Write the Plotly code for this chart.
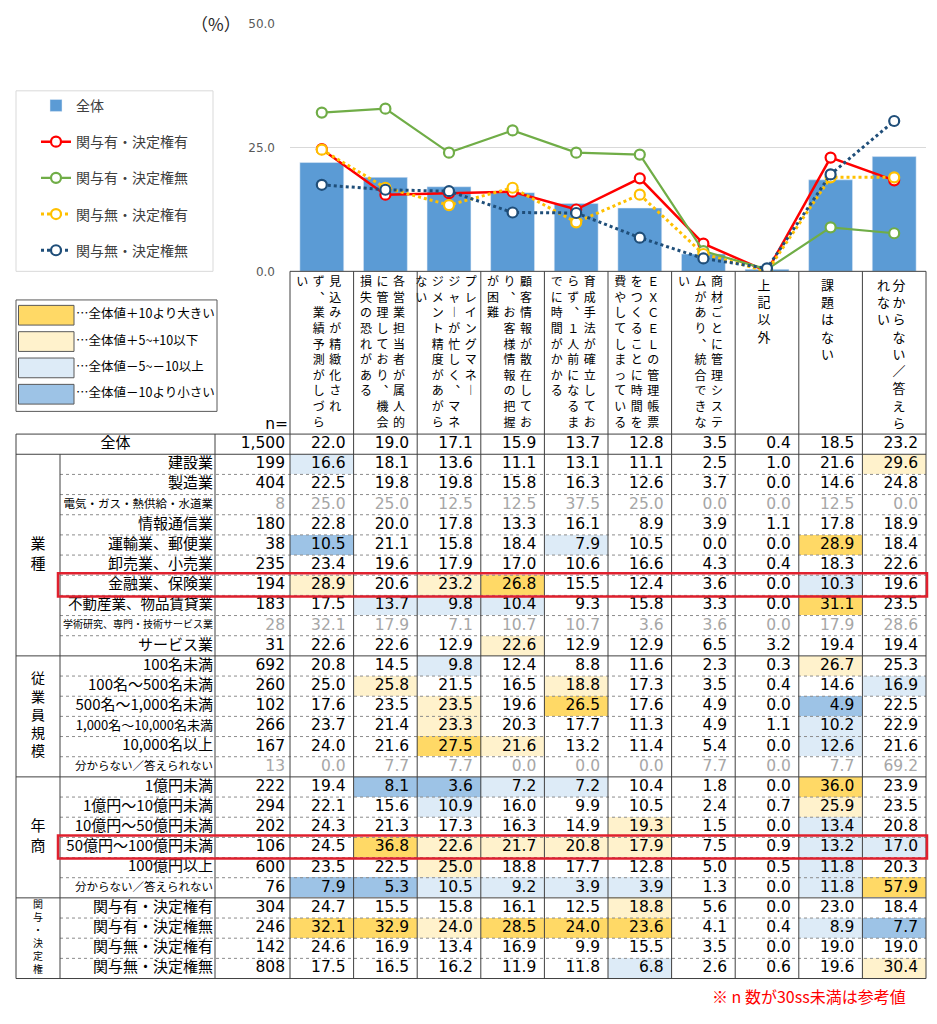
import plotly.graph_objects as go

# ---------------- data ----------------
CATEGORIES = [
    "見込みが精緻化されず、業績予測がしづらい",
    "各営業担当者が属人的に管理しており、機会損失の恐れがある",
    "プレイングマネージャーが忙しく、マネジメント精度があがらない",
    "顧客情報が散在しており、お客様情報の把握が困難",
    "育成手法が確立しておらず、1人前になるまでに時間がかかる",
    "EXCELの管理帳票をつくることに時間を費やしてしまっている",
    "商材ごとに管理システムがあり、統合できない",
    "上記以外",
    "課題はない",
    "分からない／答えられない",
]

# how each header wraps into vertical columns (right-most column first)
HEADER_COLUMNS = [
    ["見込みが精緻化され", "ず、業績予測がしづら", "い"],
    ["各営業担当者が属人的", "に管理しており、機会", "損失の恐れがある"],
    ["プレイングマネー", "ジャーが忙しく、マネ", "ジメント精度があがら", "ない"],
    ["顧客情報が散在してお", "り、お客様情報の把握", "が困難"],
    ["育成手法が確立してお", "らず、1人前になるま", "でに時間がかかる"],
    ["ＥＸＣＥＬの管理帳票", "をつくることに時間を", "費やしてしまっている"],
    ["商材ごとに管理システ", "ムがあり、統合できな", "い"],
    ["上記以外"],
    ["課題はない"],
    ["分からない／答えら", "れない"],
]

GROUP_NAMES = ["業種", "従業員規模", "年商", "関与・決定権"]
GROUP_SIZES = [10, 6, 6, 4]

ROW_LABELS = [
    "全体",
    "建設業", "製造業", "電気・ガス・熱供給・水道業", "情報通信業", "運輸業、郵便業",
    "卸売業、小売業", "金融業、保険業", "不動産業、物品賃貸業",
    "学術研究、専門・技術サービス業", "サービス業",
    "100名未満", "100名～500名未満", "500名～1,000名未満", "1,000名～10,000名未満",
    "10,000名以上", "分からない／答えられない",
    "1億円未満", "1億円～10億円未満", "10億円～50億円未満", "50億円～100億円未満",
    "100億円以上", "分からない／答えられない",
    "関与有・決定権有", "関与有・決定権無", "関与無・決定権有", "関与無・決定権無",
]

N_SIZES = [1500, 199, 404, 8, 180, 38, 235, 194, 183, 28, 31,
           692, 260, 102, 266, 167, 13,
           222, 294, 202, 106, 600, 76,
           304, 246, 142, 808]

TABLE_VALUES = [
    [22.0, 19.0, 17.1, 15.9, 13.7, 12.8, 3.5, 0.4, 18.5, 23.2],
    [16.6, 18.1, 13.6, 11.1, 13.1, 11.1, 2.5, 1.0, 21.6, 29.6],
    [22.5, 19.8, 19.8, 15.8, 16.3, 12.6, 3.7, 0.0, 14.6, 24.8],
    [25.0, 25.0, 12.5, 12.5, 37.5, 25.0, 0.0, 0.0, 12.5, 0.0],
    [22.8, 20.0, 17.8, 13.3, 16.1, 8.9, 3.9, 1.1, 17.8, 18.9],
    [10.5, 21.1, 15.8, 18.4, 7.9, 10.5, 0.0, 0.0, 28.9, 18.4],
    [23.4, 19.6, 17.9, 17.0, 10.6, 16.6, 4.3, 0.4, 18.3, 22.6],
    [28.9, 20.6, 23.2, 26.8, 15.5, 12.4, 3.6, 0.0, 10.3, 19.6],
    [17.5, 13.7, 9.8, 10.4, 9.3, 15.8, 3.3, 0.0, 31.1, 23.5],
    [32.1, 17.9, 7.1, 10.7, 10.7, 3.6, 3.6, 0.0, 17.9, 28.6],
    [22.6, 22.6, 12.9, 22.6, 12.9, 12.9, 6.5, 3.2, 19.4, 19.4],
    [20.8, 14.5, 9.8, 12.4, 8.8, 11.6, 2.3, 0.3, 26.7, 25.3],
    [25.0, 25.8, 21.5, 16.5, 18.8, 17.3, 3.5, 0.4, 14.6, 16.9],
    [17.6, 23.5, 23.5, 19.6, 26.5, 17.6, 4.9, 0.0, 4.9, 22.5],
    [23.7, 21.4, 23.3, 20.3, 17.7, 11.3, 4.9, 1.1, 10.2, 22.9],
    [24.0, 21.6, 27.5, 21.6, 13.2, 11.4, 5.4, 0.0, 12.6, 21.6],
    [0.0, 7.7, 7.7, 0.0, 0.0, 0.0, 7.7, 0.0, 7.7, 69.2],
    [19.4, 8.1, 3.6, 7.2, 7.2, 10.4, 1.8, 0.0, 36.0, 23.9],
    [22.1, 15.6, 10.9, 16.0, 9.9, 10.5, 2.4, 0.7, 25.9, 23.5],
    [24.3, 21.3, 17.3, 16.3, 14.9, 19.3, 1.5, 0.0, 13.4, 20.8],
    [24.5, 36.8, 22.6, 21.7, 20.8, 17.9, 7.5, 0.9, 13.2, 17.0],
    [23.5, 22.5, 25.0, 18.8, 17.7, 12.8, 5.0, 0.5, 11.8, 20.3],
    [7.9, 5.3, 10.5, 9.2, 3.9, 3.9, 1.3, 0.0, 11.8, 57.9],
    [24.7, 15.5, 15.8, 16.1, 12.5, 18.8, 5.6, 0.0, 23.0, 18.4],
    [32.1, 32.9, 24.0, 28.5, 24.0, 23.6, 4.1, 0.4, 8.9, 7.7],
    [24.6, 16.9, 13.4, 16.9, 9.9, 15.5, 3.5, 0.0, 19.0, 19.0],
    [17.5, 16.5, 16.2, 11.9, 11.8, 6.8, 2.6, 0.6, 19.6, 30.4],
]

LINE_SERIES = ["関与有・決定権有", "関与有・決定権無", "関与無・決定権有", "関与無・決定権無"]
HIGHLIGHT_LABELS = ["金融業、保険業", "50億円～100億円未満"]
KEY_LABELS = ["…全体値＋10より大きい", "…全体値＋5~+10以下",
              "…全体値－5~－10以上", "…全体値－10より小さい"]
SMALL_N = 30
FOOTNOTE = "※ n 数が30ss未満は参考値"

# ---------------- styles / layout ----------------
W, H = 937, 1024
FONT_JP = "Noto Sans CJK JP"
FONT_NUM = "DejaVu Sans"
BAR_COLOR = "#5B9BD5"
LINE_STYLES = {
    "関与有・決定権有": dict(color="#FF0000", width=2.5, dash="solid"),
    "関与有・決定権無": dict(color="#70AD47", width=2.2, dash="solid"),
    "関与無・決定権有": dict(color="#FFC000", width=3, dash="dot"),
    "関与無・決定権無": dict(color="#1F4E79", width=3, dash="dot"),
}
# level colours: none, +5..+10, >+10, -5..-10, <-10
LEVEL_COLORS = ["#FFFFFF", "#FFF2CC", "#FFD966", "#DDEBF7", "#9DC3E6"]
KEY_ORDER = [2, 1, 3, 4]
GRAY = "#A6A6A6"
BORDER = "#404040"

TABLE_LEFT, LABEL_LEFT, N_LEFT, DATA_LEFT, TABLE_RIGHT = 16, 60, 215, 290, 926
HEADER_TOP, BODY_TOP, TABLE_BOTTOM = 268, 433, 985
CHART_TOP = 17.3
COL_W = (TABLE_RIGHT - DATA_LEFT) / len(CATEGORIES)
ROW_H = (TABLE_BOTTOM - BODY_TOP) / len(ROW_LABELS)

LABEL_SIZES = {3: 11.5, 8: 14.5, 9: 10, 14: 13, 16: 11.5, 22: 11.5}
GROUP_LABEL_SIZES = [15, 14, 15, 10]
BIG_HEADER = {7, 8, 9}
VERTICAL_FORMS = {"、": "︑", "ー": "︱", "1": "１"}


def col_center(i):
    return DATA_LEFT + COL_W * (i + 0.5)


def row_top(r):
    return BODY_TOP + ROW_H * r


def row_center(r):
    return BODY_TOP + ROW_H * (r + 0.5)


def level(v, base, n):
    if n < SMALL_N:
        return 0
    d = round(v - base, 1)
    if d > 10:
        return 2
    if d >= 5:
        return 1
    if d < -10:
        return 4
    if d <= -5:
        return 3
    return 0


def text_trace(x, y, text, pos, family, size, color="#000000"):
    return go.Scatter(
        x=x, y=y, text=text, mode="text", textposition=pos,
        textfont=dict(family=family, size=size, color=color),
        hoverinfo="skip", showlegend=False, cliponaxis=False,
        xaxis="x2", yaxis="y2",
    )


fig = go.Figure()

# ---------------- chart ----------------
overall = TABLE_VALUES[0]
fig.add_trace(go.Bar(
    x=CATEGORIES, y=overall, name="全体", legendgroup="全体",
    marker=dict(color=BAR_COLOR), width=0.69, hoverinfo="skip",
))
for name in LINE_SERIES:
    st = LINE_STYLES[name]
    fig.add_trace(go.Scatter(
        x=CATEGORIES, y=TABLE_VALUES[ROW_LABELS.index(name)],
        mode="lines+markers", name=name, legendgroup=name,
        line=dict(color=st["color"], width=st["width"], dash=st["dash"]),
        marker=dict(symbol="circle", size=10, color="white",
                    line=dict(color=st["color"], width=2.2)),
        hoverinfo="skip",
    ))

# ---------------- table cells ----------------
z = [[level(v, b, n) for v, b in zip(row, overall)]
     for row, n in zip(TABLE_VALUES, N_SIZES)]
scale = []
for k, c in enumerate(LEVEL_COLORS):
    scale += [[k / 5, c], [(k + 1) / 5, c]]
fig.add_trace(go.Heatmap(
    x=[col_center(i) for i in range(len(CATEGORIES))],
    y=[row_center(r) for r in range(len(ROW_LABELS))],
    z=z, colorscale=scale, zmin=-0.5, zmax=4.5, showscale=False,
    hoverinfo="skip", xaxis="x2", yaxis="y2",
))

# numbers (n and percentages), gray when n is too small
for gray in (False, True):
    xs, ys, ts = [], [], []
    for r, (row, n) in enumerate(zip(TABLE_VALUES, N_SIZES)):
        if (n < SMALL_N) != gray:
            continue
        xs.append(DATA_LEFT - 5)
        ys.append(row_center(r))
        ts.append(f"{n:,}")
        for i, v in enumerate(row):
            xs.append(col_center(i) + COL_W / 2 - 8)
            ys.append(row_center(r))
            ts.append(f"{v:.1f}")
    fig.add_trace(text_trace(xs, ys, ts, "middle left", FONT_NUM, 15.5,
                             GRAY if gray else "#000000"))

# row labels
fig.add_trace(text_trace(
    [N_LEFT - 2] * (len(ROW_LABELS) - 1),
    [row_center(r) for r in range(1, len(ROW_LABELS))],
    ROW_LABELS[1:], "middle left", FONT_JP,
    [LABEL_SIZES.get(r, 15) for r in range(1, len(ROW_LABELS))],
))
fig.add_trace(text_trace([(TABLE_LEFT + N_LEFT) / 2], [row_center(0)], [ROW_LABELS[0]],
                         "middle center", FONT_JP, 15))
fig.add_trace(text_trace([DATA_LEFT - 2], [HEADER_TOP + 156], ["n="],
                         "middle left", FONT_NUM, 15.5))

# group labels (vertical)
gy, gt = [], []
start = 1
for name, size in zip(GROUP_NAMES, GROUP_SIZES):
    gy.append((row_center(start) + row_center(start + size - 1)) / 2)
    gt.append("<br>".join(name))
    start += size
fig.add_trace(text_trace([(TABLE_LEFT + LABEL_LEFT) / 2] * len(gy), gy, gt,
                         "middle center", FONT_JP, GROUP_LABEL_SIZES))

# column headers (vertical writing, columns read right to left)
hx, ht = [], []          # long headers: one multi-line text per column
bx, by, bt = [], [], []  # short headers: one point per character, wider spacing
for i, cols in enumerate(HEADER_COLUMNS):
    big = i in BIG_HEADER
    step_x = 15.5 if big else 16.5
    k = len(cols)
    for j, col in enumerate(cols):
        x = col_center(i) - 3 + ((k - 1) / 2 - j) * step_x
        chars = [VERTICAL_FORMS.get(ch, ch) for ch in col]
        if big:
            for m, ch in enumerate(chars):
                bx.append(x)
                by.append(HEADER_TOP + 15.5 + m * 17.5)
                bt.append(ch)
        else:
            hx.append(x)
            ht.append("<br>".join(chars))
fig.add_trace(text_trace(hx, [HEADER_TOP + 6] * len(hx), ht, "bottom center", FONT_JP, 12))
fig.add_trace(text_trace(bx, by, bt, "middle center", FONT_JP, 13))

# ---------------- table lines ----------------
shapes = []


def hline(y, x0, x1, dash="solid", color=BORDER):
    shapes.append(dict(type="line", xref="x2", yref="y2", x0=x0, x1=x1, y0=y, y1=y,
                       line=dict(color=color, width=1, dash=dash)))


def vline(x, y0, y1):
    shapes.append(dict(type="line", xref="x2", yref="y2", x0=x, x1=x, y0=y0, y1=y1,
                       line=dict(color=BORDER, width=1)))


hline(HEADER_TOP, DATA_LEFT, TABLE_RIGHT)
hline(BODY_TOP, TABLE_LEFT, TABLE_RIGHT)
hline(row_top(1), TABLE_LEFT, TABLE_RIGHT)
start = 1
for size in GROUP_SIZES:
    for r in range(start + 1, start + size):
        hline(row_top(r), LABEL_LEFT, TABLE_RIGHT, dash="dot", color="#8C8C8C")
    start += size
    hline(row_top(start), TABLE_LEFT, TABLE_RIGHT)
vline(TABLE_LEFT, BODY_TOP, TABLE_BOTTOM)
vline(LABEL_LEFT, row_top(1), TABLE_BOTTOM)
vline(N_LEFT, BODY_TOP, TABLE_BOTTOM)
for i in range(len(CATEGORIES) + 1):
    vline(DATA_LEFT + COL_W * i, HEADER_TOP, TABLE_BOTTOM)

for lab in HIGHLIGHT_LABELS:
    r = ROW_LABELS.index(lab)
    shapes.append(dict(type="rect", xref="x2", yref="y2",
                       x0=LABEL_LEFT - 2, x1=TABLE_RIGHT + 1,
                       y0=row_top(r) - 2, y1=row_top(r + 1) + 1,
                       line=dict(color="#E0202E", width=2.5)))

# legend frame
shapes.append(dict(type="rect", xref="x2", yref="y2", x0=16, x1=213, y0=85, y1=268,
                   line=dict(color="#D9D9D9", width=1)))

# colour key
shapes.append(dict(type="rect", xref="x2", yref="y2", x0=16, x1=217, y0=297, y1=410,
                   line=dict(color="#595959", width=1)))
ky = []
for j, lvl in enumerate(KEY_ORDER):
    yc = 312.5 + j * 26.7
    shapes.append(dict(type="rect", xref="x2", yref="y2", x0=18.5, x1=74, y0=yc - 10, y1=yc + 10,
                       line=dict(color="#595959", width=1), fillcolor=LEVEL_COLORS[lvl]))
    ky.append(yc)
fig.add_trace(text_trace([76] * len(ky), ky, KEY_LABELS, "middle right", FONT_JP, 12.5))

fig.update_layout(
    width=W, height=H,
    margin=dict(l=0, r=0, t=0, b=0),
    paper_bgcolor="white",
    plot_bgcolor="rgba(0,0,0,0)",
    font=dict(family=FONT_JP, color="#404040"),
    shapes=shapes,
    xaxis=dict(domain=[DATA_LEFT / W, TABLE_RIGHT / W], type="category",
               range=[-0.5, len(CATEGORIES) - 0.5], showticklabels=False,
               showgrid=False, zeroline=False, showline=False, fixedrange=True),
    yaxis=dict(domain=[1 - HEADER_TOP / H, 1 - CHART_TOP / H], range=[0, 50],
               tickvals=[0, 25, 50], tickformat=".1f", gridcolor="#D9D9D9",
               zeroline=False, showline=False, ticklabelstandoff=14,
               tickfont=dict(family=FONT_NUM, size=12, color="#595959"), fixedrange=True),
    xaxis2=dict(domain=[0, 1], range=[0, W], visible=False, fixedrange=True, anchor="y2"),
    yaxis2=dict(domain=[0, 1], range=[H, 0], visible=False, fixedrange=True, anchor="x2"),
    legend=dict(x=36 / W, y=1 - 84 / H, xanchor="left", yanchor="top",
                bgcolor="rgba(0,0,0,0)", borderwidth=0, tracegroupgap=15,
                font=dict(family=FONT_JP, size=14, color="#404040")),
    annotations=[
        dict(text="（%）", xref="paper", yref="paper", x=216 / W, y=1 - 17 / H,
             xanchor="center", yanchor="middle", showarrow=False,
             font=dict(family=FONT_JP, size=17, color="#262626")),
        dict(text=FOOTNOTE, xref="paper", yref="paper", x=908 / W, y=1 - 1003 / H,
             xanchor="right", yanchor="middle", showarrow=False,
             font=dict(family=FONT_JP, size=16, color="#FF0000")),
    ],
)

fig.write_html("out.html", config={"displayModeBar": False},
               post_script="document.body.style.margin='0';document.body.style.overflow='hidden';")
